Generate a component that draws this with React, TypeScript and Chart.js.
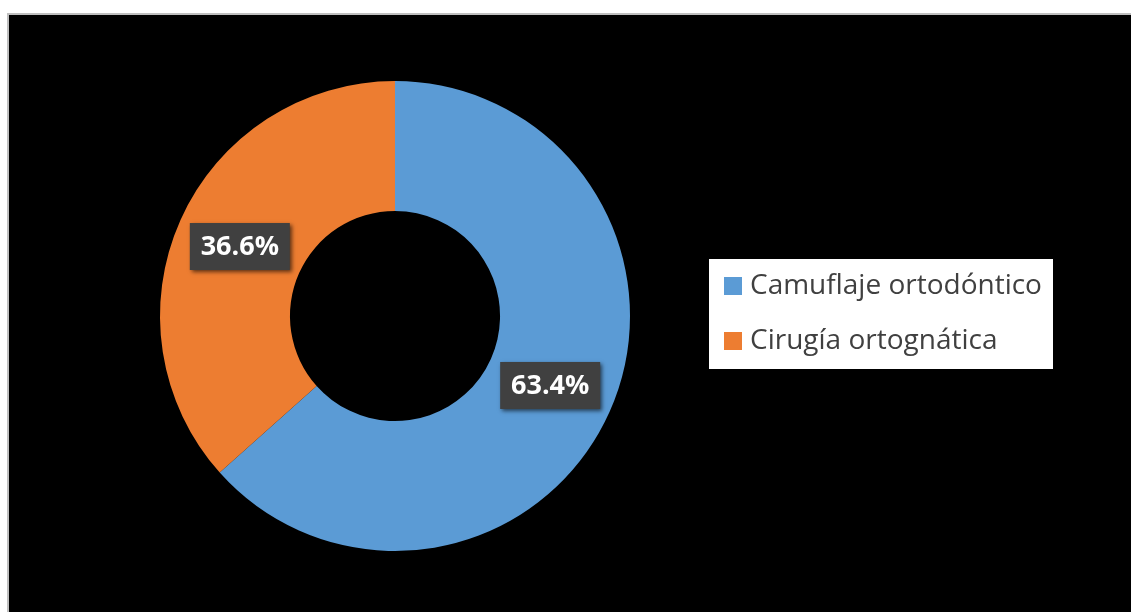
import React, { useEffect, useRef } from "react";
import { Chart, registerables } from "chart.js";

Chart.register(...registerables);

const categories = ["Camuflaje ortodóntico", "Cirugía ortognática"];
const values = [63.4, 36.6];
const valueLabels = ["63.4%", "36.6%"];
const colors = ["#5B9BD5", "#ED7D31"];

const W = 1122;
const H = 597;

const labelPlugin = {
  id: "boxLabels",
  afterDatasetsDraw(chart: any) {
    const ctx = chart.ctx;
    const meta = chart.getDatasetMeta(0);
    ctx.save();
    ctx.font = "bold 27px 'Open Sans'";
    ctx.textAlign = "center";
    ctx.textBaseline = "middle";
    meta.data.forEach((arc: any, i: number) => {
      const p = arc.tooltipPosition();
      const bw = 100;
      const bh = 47;
      ctx.shadowColor = "rgba(0,0,0,0.6)";
      ctx.shadowBlur = 4;
      ctx.shadowOffsetX = 2;
      ctx.shadowOffsetY = 2;
      ctx.fillStyle = "#404040";
      ctx.fillRect(p.x - bw / 2, p.y - bh / 2, bw, bh);
      ctx.shadowColor = "transparent";
      ctx.fillStyle = "#FFFFFF";
      ctx.fillText(valueLabels[i], p.x, p.y + 1);
    });
    ctx.restore();
  },
};

const legendPlugin = {
  id: "boxLegend",
  afterDraw(chart: any) {
    const ctx = chart.ctx;
    ctx.save();
    const lx = 700;
    const ly = 244;
    ctx.fillStyle = "#FFFFFF";
    ctx.fillRect(lx, ly, 344, 110);
    ctx.font = "28px 'Open Sans'";
    ctx.textBaseline = "middle";
    ctx.textAlign = "left";
    categories.forEach((c, i) => {
      const cy = ly + 27 + i * 55;
      ctx.fillStyle = colors[i];
      ctx.fillRect(lx + 15, cy - 9, 18, 18);
      ctx.fillStyle = "#404040";
      ctx.fillText(c, lx + 41, cy);
    });
    ctx.restore();
  },
};

export default function App() {
  const ref = useRef<HTMLCanvasElement>(null);
  useEffect(() => {
    if (!ref.current) return;
    const chart = new Chart(ref.current, {
      type: "doughnut",
      data: {
        labels: categories,
        datasets: [
          {
            data: values,
            backgroundColor: colors,
            borderWidth: 0,
          },
        ],
      },
      options: {
        responsive: false,
        animation: false,
        devicePixelRatio: 1,
        cutout: "44.7%",
        layout: { padding: { left: 151, right: 501, top: 66, bottom: 61 } },
        plugins: {
          legend: { display: false },
          tooltip: { enabled: false },
        },
      },
      plugins: [labelPlugin, legendPlugin],
    });
    return () => chart.destroy();
  }, []);
  return (
    <div
      style={{
        position: "absolute",
        left: 7,
        top: 13,
        width: W,
        height: H,
        borderLeft: "2px solid #BFBFBF",
        borderTop: "2px solid #BFBFBF",
        background: "#000000",
        overflow: "hidden",
      }}
    >
      <canvas ref={ref} width={W} height={H} style={{ display: "block", width: W, height: H }} />
    </div>
  );
}
